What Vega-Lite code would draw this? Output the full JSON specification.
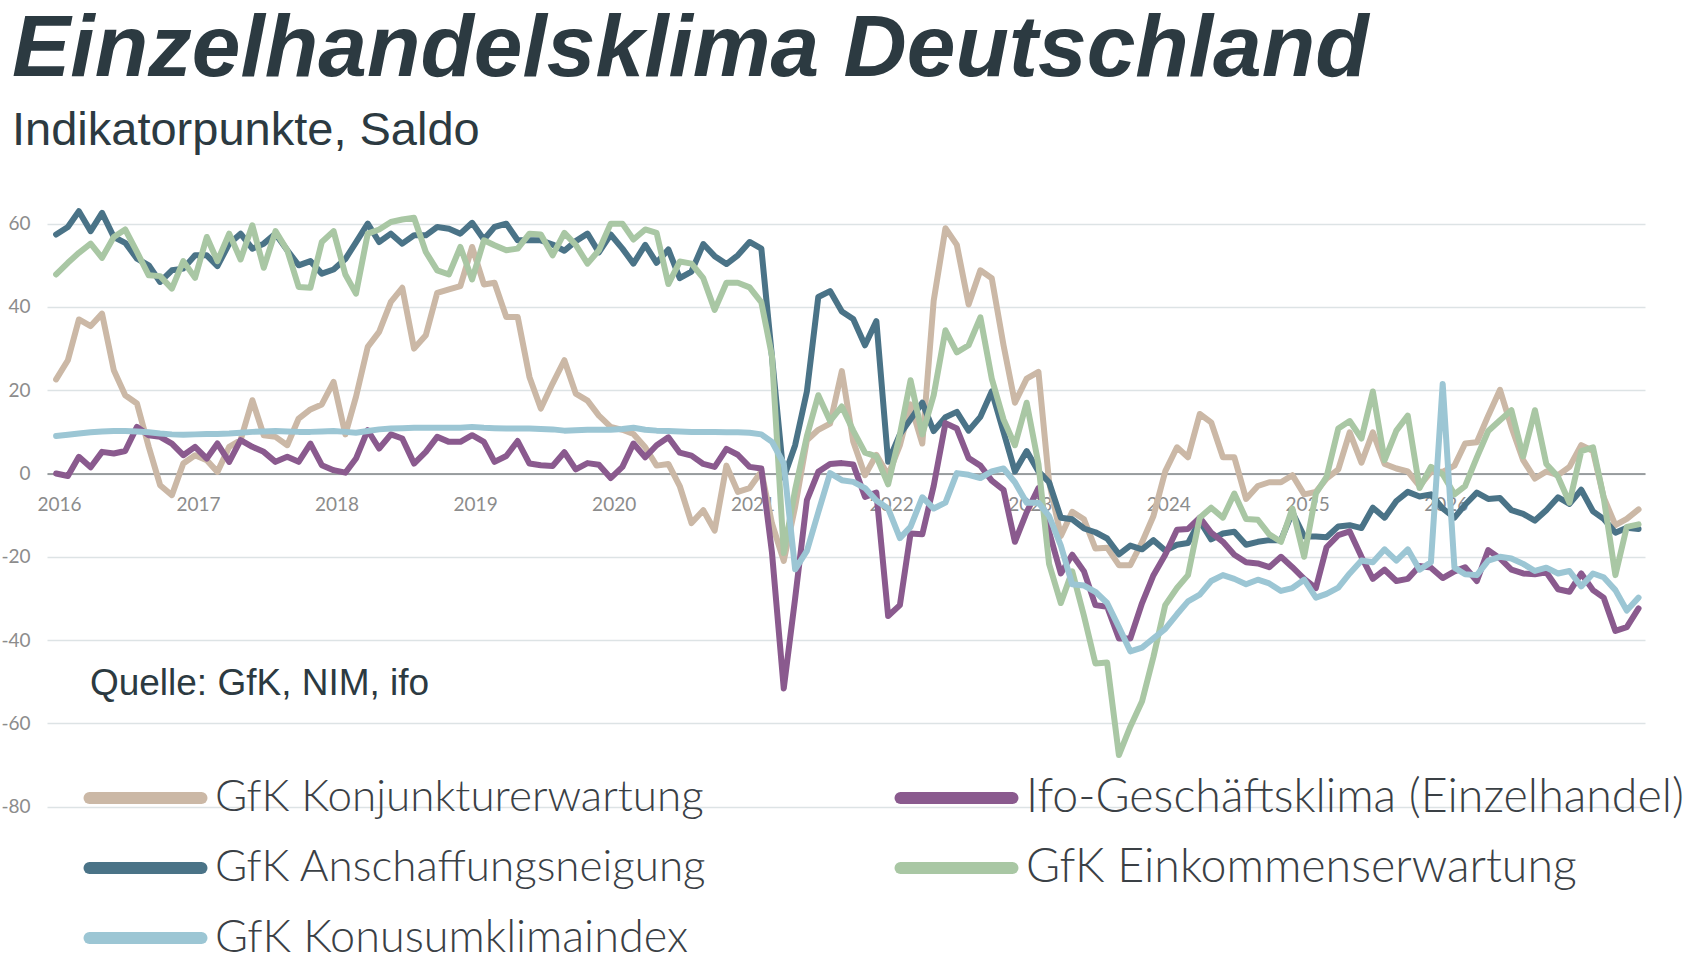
{
  "$schema": "https://vega.github.io/schema/vega-lite/v6.json",
  "width": 1598,
  "height": 608,
  "autosize": "none",
  "padding": {"left": 47, "top": 207, "right": 53, "bottom": 148},
  "background": "white",
  "config": {"view": {"stroke": null}},
  "title": {
    "text": "Einzelhandelsklima Deutschland",
    "subtitle": "Indikatorpunkte, Saldo",
    "anchor": "start",
    "frame": "group",
    "dx": -35,
    "offset": 52,
    "font": "Liberation Sans",
    "fontSize": 87.5,
    "fontStyle": "italic",
    "fontWeight": "bold",
    "color": "#2c3a41",
    "subtitleFont": "Liberation Sans",
    "subtitleFontSize": 47,
    "subtitleColor": "#2c3a41",
    "subtitlePadding": 14
  },
  "layer": [
    {
      "data": {
        "values": [
          {"Monat": "2016-01", "k": 22.6, "a": 57.4, "i": 0, "e": 47.8, "c": 9.0},
          {"Monat": "2016-02", "k": 27.2, "a": 59.2, "i": -0.6, "e": 50.6, "c": 9.3},
          {"Monat": "2016-03", "k": 37, "a": 63, "i": 4, "e": 53, "c": 9.6},
          {"Monat": "2016-04", "k": 35.4, "a": 58.2, "i": 1.5, "e": 55.2, "c": 9.9},
          {"Monat": "2016-05", "k": 38.4, "a": 62.6, "i": 5.2, "e": 51.8, "c": 10.1},
          {"Monat": "2016-06", "k": 24.8, "a": 56.8, "i": 4.8, "e": 56.8, "c": 10.2},
          {"Monat": "2016-07", "k": 18.8, "a": 55.4, "i": 5.4, "e": 58.6, "c": 10.2},
          {"Monat": "2016-08", "k": 16.8, "a": 51.6, "i": 11.2, "e": 53.2, "c": 10.1},
          {"Monat": "2016-09", "k": 6.4, "a": 50, "i": 9.2, "e": 47.6, "c": 9.9},
          {"Monat": "2016-10", "k": -2.8, "a": 46, "i": 8.8, "e": 47.4, "c": 9.6},
          {"Monat": "2016-11", "k": -5.2, "a": 48.8, "i": 7.2, "e": 44.4, "c": 9.4},
          {"Monat": "2016-12", "k": 2.4, "a": 49.2, "i": 4.4, "e": 51, "c": 9.3},
          {"Monat": "2017-01", "k": 4.4, "a": 52.4, "i": 6.4, "e": 47, "c": 9.4},
          {"Monat": "2017-02", "k": 3.2, "a": 52.4, "i": 3.6, "e": 56.8, "c": 9.5},
          {"Monat": "2017-03", "k": 0.4, "a": 49.8, "i": 7.2, "e": 51, "c": 9.5},
          {"Monat": "2017-04", "k": 6.4, "a": 55.2, "i": 2.8, "e": 57.6, "c": 9.6},
          {"Monat": "2017-05", "k": 8, "a": 57.6, "i": 8, "e": 51.4, "c": 9.8},
          {"Monat": "2017-06", "k": 17.6, "a": 54, "i": 6.4, "e": 59.6, "c": 10},
          {"Monat": "2017-07", "k": 9.2, "a": 55.2, "i": 5.2, "e": 49.4, "c": 10.1},
          {"Monat": "2017-08", "k": 8.8, "a": 57.6, "i": 2.8, "e": 58.2, "c": 10.2},
          {"Monat": "2017-09", "k": 6.8, "a": 53.6, "i": 4, "e": 53.6, "c": 10.1},
          {"Monat": "2017-10", "k": 13.2, "a": 50, "i": 2.8, "e": 44.8, "c": 10},
          {"Monat": "2017-11", "k": 15.4, "a": 51, "i": 7.2, "e": 44.6, "c": 10},
          {"Monat": "2017-12", "k": 16.6, "a": 48, "i": 2, "e": 55.6, "c": 10.1},
          {"Monat": "2018-01", "k": 22, "a": 49, "i": 0.8, "e": 58.2, "c": 10.2},
          {"Monat": "2018-02", "k": 9.4, "a": 51.5, "i": 0.2, "e": 47.8, "c": 10},
          {"Monat": "2018-03", "k": 18.4, "a": 55.5, "i": 3.6, "e": 43.2, "c": 9.8},
          {"Monat": "2018-04", "k": 30.4, "a": 60, "i": 10.4, "e": 57.6, "c": 10.2},
          {"Monat": "2018-05", "k": 34, "a": 55.6, "i": 6, "e": 58.6, "c": 10.6},
          {"Monat": "2018-06", "k": 41.2, "a": 57.6, "i": 9.4, "e": 60.4, "c": 10.8},
          {"Monat": "2018-07", "k": 44.6, "a": 55.2, "i": 8.4, "e": 61, "c": 10.9},
          {"Monat": "2018-08", "k": 30, "a": 57.2, "i": 2.4, "e": 61.4, "c": 11},
          {"Monat": "2018-09", "k": 33.2, "a": 57.2, "i": 5.2, "e": 53.2, "c": 11},
          {"Monat": "2018-10", "k": 43.4, "a": 59.2, "i": 8.8, "e": 48.8, "c": 11},
          {"Monat": "2018-11", "k": 44.2, "a": 58.8, "i": 7.6, "e": 47.8, "c": 11},
          {"Monat": "2018-12", "k": 45, "a": 57.6, "i": 7.6, "e": 54.4, "c": 11},
          {"Monat": "2019-01", "k": 54.4, "a": 60.2, "i": 9.2, "e": 46.6, "c": 11.2},
          {"Monat": "2019-02", "k": 45.4, "a": 56.2, "i": 7.6, "e": 56, "c": 11},
          {"Monat": "2019-03", "k": 45.8, "a": 59.2, "i": 2.8, "e": 54.8, "c": 10.9},
          {"Monat": "2019-04", "k": 37.6, "a": 60, "i": 4.2, "e": 53.6, "c": 10.8},
          {"Monat": "2019-05", "k": 37.6, "a": 56, "i": 7.8, "e": 54, "c": 10.8},
          {"Monat": "2019-06", "k": 23.2, "a": 56, "i": 2.4, "e": 57.6, "c": 10.8},
          {"Monat": "2019-07", "k": 15.6, "a": 56, "i": 2, "e": 57.4, "c": 10.7},
          {"Monat": "2019-08", "k": 21.6, "a": 55, "i": 1.8, "e": 52.4, "c": 10.6},
          {"Monat": "2019-09", "k": 27.2, "a": 53.5, "i": 5.1, "e": 57.8, "c": 10.3},
          {"Monat": "2019-10", "k": 19.2, "a": 55.8, "i": 1, "e": 54.9, "c": 10.4},
          {"Monat": "2019-11", "k": 17.5, "a": 57.6, "i": 2.5, "e": 50.4, "c": 10.5},
          {"Monat": "2019-12", "k": 13.9, "a": 53.1, "i": 2.1, "e": 53.6, "c": 10.5},
          {"Monat": "2020-01", "k": 11.2, "a": 57.4, "i": -1.1, "e": 60, "c": 10.5},
          {"Monat": "2020-02", "k": 10.5, "a": 54, "i": 1.6, "e": 60, "c": 10.7},
          {"Monat": "2020-03", "k": 9.5, "a": 50.4, "i": 7.2, "e": 56.2, "c": 11},
          {"Monat": "2020-04", "k": 6.3, "a": 54.9, "i": 3.9, "e": 58.6, "c": 10.5},
          {"Monat": "2020-05", "k": 1.9, "a": 50.6, "i": 6.8, "e": 57.8, "c": 10.3},
          {"Monat": "2020-06", "k": 2.3, "a": 53.8, "i": 8.7, "e": 45.5, "c": 10.2},
          {"Monat": "2020-07", "k": -3, "a": 46.9, "i": 5, "e": 50.9, "c": 10.1},
          {"Monat": "2020-08", "k": -11.9, "a": 48.5, "i": 4.3, "e": 50.4, "c": 10},
          {"Monat": "2020-09", "k": -8.8, "a": 55.1, "i": 2.3, "e": 46.9, "c": 10},
          {"Monat": "2020-10", "k": -13.7, "a": 52.2, "i": 1.6, "e": 39.3, "c": 10},
          {"Monat": "2020-11", "k": 1.9, "a": 50.3, "i": 5.9, "e": 45.8, "c": 9.9},
          {"Monat": "2020-12", "k": -4.4, "a": 52.4, "i": 4.5, "e": 45.8, "c": 9.9},
          {"Monat": "2021-01", "k": -3.5, "a": 55.6, "i": 1.6, "e": 44.7, "c": 9.8},
          {"Monat": "2021-02", "k": 0.5, "a": 54, "i": 1.2, "e": 41.1, "c": 9.4},
          {"Monat": "2021-03", "k": -12, "a": 28, "i": -19, "e": 28.2, "c": 7.6},
          {"Monat": "2021-04", "k": -21, "a": -1, "i": -51.6, "e": -19.1, "c": 2.4},
          {"Monat": "2021-05", "k": -8, "a": 6.8, "i": -30, "e": -3.9, "c": -23},
          {"Monat": "2021-06", "k": 8, "a": 19.7, "i": -6.4, "e": 9, "c": -18.6},
          {"Monat": "2021-07", "k": 10.5, "a": 42.4, "i": 0.4, "e": 18.8, "c": -9.3},
          {"Monat": "2021-08", "k": 12, "a": 43.8, "i": 2.3, "e": 12.6, "c": 0.1},
          {"Monat": "2021-09", "k": 24.6, "a": 38.9, "i": 2.5, "e": 16.1, "c": -1.6},
          {"Monat": "2021-10", "k": 7.7, "a": 37.1, "i": 2.2, "e": 10.3, "c": -2},
          {"Monat": "2021-11", "k": -0.4, "a": 30.8, "i": -5.6, "e": 5, "c": -3.5},
          {"Monat": "2021-12", "k": 4.5, "a": 36.6, "i": -4.6, "e": 4.1, "c": -6.5},
          {"Monat": "2022-01", "k": -0.4, "a": 2.8, "i": -34.2, "e": -2.6, "c": -8.4},
          {"Monat": "2022-02", "k": 6.8, "a": 9.4, "i": -31.6, "e": 9.4, "c": -15.5},
          {"Monat": "2022-03", "k": 16.6, "a": 13, "i": -14.4, "e": 22.4, "c": -12.8},
          {"Monat": "2022-04", "k": 7.2, "a": 17, "i": -14.6, "e": 9.4, "c": -5.7},
          {"Monat": "2022-05", "k": 41.5, "a": 10.2, "i": -3, "e": 18.8, "c": -8.4},
          {"Monat": "2022-06", "k": 58.9, "a": 13.5, "i": 12.1, "e": 34.4, "c": -7},
          {"Monat": "2022-07", "k": 54.9, "a": 14.8, "i": 10.8, "e": 29.1, "c": 0.1},
          {"Monat": "2022-08", "k": 40.6, "a": 10.3, "i": 3.7, "e": 30.8, "c": -0.3},
          {"Monat": "2022-09", "k": 48.8, "a": 13.6, "i": 1.9, "e": 37.5, "c": -1.1},
          {"Monat": "2022-10", "k": 46.9, "a": 19.7, "i": -1.7, "e": 22.8, "c": 0.5},
          {"Monat": "2022-11", "k": 30.8, "a": 10, "i": -3.9, "e": 13, "c": 1.2},
          {"Monat": "2022-12", "k": 17, "a": 0.5, "i": -16.4, "e": 6.8, "c": -2.1},
          {"Monat": "2023-01", "k": 22.8, "a": 5.4, "i": -9.3, "e": 17, "c": -7},
          {"Monat": "2023-02", "k": 24.4, "a": 0.5, "i": -3.5, "e": 2.3, "c": -7},
          {"Monat": "2023-03", "k": -2, "a": -2.1, "i": -14, "e": -21.7, "c": -10.2},
          {"Monat": "2023-04", "k": -15, "a": -10.6, "i": -24, "e": -31.1, "c": -17.3},
          {"Monat": "2023-05", "k": -9.2, "a": -11, "i": -19.5, "e": -23.5, "c": -26.6},
          {"Monat": "2023-06", "k": -11, "a": -13.2, "i": -23.5, "e": -34.2, "c": -26.9},
          {"Monat": "2023-07", "k": -18, "a": -14.1, "i": -31.6, "e": -45.6, "c": -28.4},
          {"Monat": "2023-08", "k": -17.8, "a": -15.6, "i": -32, "e": -45.4, "c": -31.1},
          {"Monat": "2023-09", "k": -22, "a": -19.4, "i": -39.6, "e": -67.6, "c": -36.9},
          {"Monat": "2023-10", "k": -22, "a": -17.3, "i": -39.6, "e": -60.8, "c": -42.7},
          {"Monat": "2023-11", "k": -16.5, "a": -18.2, "i": -31.1, "e": -54.7, "c": -41.8},
          {"Monat": "2023-12", "k": -10.2, "a": -16, "i": -24.4, "e": -44, "c": -39.6},
          {"Monat": "2024-01", "k": 0.5, "a": -18.5, "i": -19.5, "e": -31.6, "c": -37.3},
          {"Monat": "2024-02", "k": 6.3, "a": -17.1, "i": -13.5, "e": -27.5, "c": -33.8},
          {"Monat": "2024-03", "k": 3.9, "a": -16.7, "i": -13.3, "e": -24.4, "c": -30.7},
          {"Monat": "2024-04", "k": 14.3, "a": -11.4, "i": -10.6, "e": -10.6, "c": -29.1},
          {"Monat": "2024-05", "k": 12.3, "a": -15.8, "i": -14.2, "e": -8.2, "c": -25.8},
          {"Monat": "2024-06", "k": 3.9, "a": -14.4, "i": -16.4, "e": -10.6, "c": -24.4},
          {"Monat": "2024-07", "k": 3.9, "a": -14, "i": -19.5, "e": -4.8, "c": -25.3},
          {"Monat": "2024-08", "k": -6.1, "a": -17.1, "i": -21.3, "e": -10.9, "c": -26.6},
          {"Monat": "2024-09", "k": -3, "a": -16.4, "i": -21.6, "e": -11.1, "c": -25.5},
          {"Monat": "2024-10", "k": -2.1, "a": -16, "i": -22.5, "e": -14.6, "c": -26.4},
          {"Monat": "2024-11", "k": -2.1, "a": -16, "i": -20, "e": -16.4, "c": -28.2},
          {"Monat": "2024-12", "k": -0.4, "a": -9.3, "i": -22.5, "e": -8.4, "c": -27.5},
          {"Monat": "2025-01", "k": -5, "a": -15.1, "i": -25.3, "e": -20, "c": -25.5},
          {"Monat": "2025-02", "k": -4.4, "a": -15.1, "i": -27.5, "e": -4.8, "c": -29.8},
          {"Monat": "2025-03", "k": -1.2, "a": -15.3, "i": -17.7, "e": -0.8, "c": -28.9},
          {"Monat": "2025-04", "k": 1, "a": -12.7, "i": -14.8, "e": 10.8, "c": -27.4},
          {"Monat": "2025-05", "k": 9.9, "a": -12.4, "i": -13.9, "e": 12.6, "c": -24},
          {"Monat": "2025-06", "k": 2.6, "a": -13.1, "i": -20, "e": 8.4, "c": -20.9},
          {"Monat": "2025-07", "k": 9.9, "a": -8.2, "i": -25.3, "e": 19.7, "c": -21.3},
          {"Monat": "2025-08", "k": 2.3, "a": -10.6, "i": -23.1, "e": 3.2, "c": -18.2},
          {"Monat": "2025-09", "k": 1.2, "a": -6.6, "i": -25.8, "e": 10.3, "c": -20.9},
          {"Monat": "2025-10", "k": 0.5, "a": -4.4, "i": -25.3, "e": 13.9, "c": -18.2},
          {"Monat": "2025-11", "k": -3, "a": -5.5, "i": -22.2, "e": -3.5, "c": -23.1},
          {"Monat": "2025-12", "k": 0.4, "a": -5, "i": -22.6, "e": 1.6, "c": -21.3},
          {"Monat": "2026-01", "k": 0.4, "a": -8.4, "i": -25.1, "e": -0.2, "c": 21.5},
          {"Monat": "2026-02", "k": 1.9, "a": -10.6, "i": -23.5, "e": -5, "c": -22.6},
          {"Monat": "2026-03", "k": 7.2, "a": -7.5, "i": -22.5, "e": -3, "c": -24.2},
          {"Monat": "2026-04", "k": 7.5, "a": -4.6, "i": -25.8, "e": 3.9, "c": -24.4},
          {"Monat": "2026-05", "k": 13.9, "a": -6.1, "i": -18.4, "e": 10.2, "c": -20.9},
          {"Monat": "2026-06", "k": 20.1, "a": -5.9, "i": -20.4, "e": 12.8, "c": -20},
          {"Monat": "2026-07", "k": 11.2, "a": -8.8, "i": -23.1, "e": 15.2, "c": -20.4},
          {"Monat": "2026-08", "k": 3.2, "a": -9.7, "i": -24, "e": 4.1, "c": -21.7},
          {"Monat": "2026-09", "k": -1.2, "a": -11.3, "i": -24.2, "e": 15.2, "c": -23.4},
          {"Monat": "2026-10", "k": 0.5, "a": -8.8, "i": -23.7, "e": 2.3, "c": -22.6},
          {"Monat": "2026-11", "k": -0.4, "a": -5.7, "i": -27.8, "e": -0.8, "c": -24},
          {"Monat": "2026-12", "k": 1.6, "a": -7.3, "i": -28.4, "e": -7, "c": -23.4},
          {"Monat": "2027-01", "k": 6.8, "a": -3.9, "i": -24, "e": 5.4, "c": -27.1},
          {"Monat": "2027-02", "k": 5.4, "a": -9.1, "i": -28, "e": 6.3, "c": -24},
          {"Monat": "2027-03", "k": -5.7, "a": -10.9, "i": -29.8, "e": -5.7, "c": -24.9},
          {"Monat": "2027-04", "k": -12.4, "a": -14.2, "i": -37.8, "e": -24.4, "c": -28},
          {"Monat": "2027-05", "k": -10.9, "a": -13, "i": -36.9, "e": -12.8, "c": -32.9},
          {"Monat": "2027-06", "k": -8.6, "a": -13.3, "i": -32.4, "e": -12.2, "c": -29.8}
        ]
      },
      "transform": [
        {"fold": ["k", "a", "i", "e", "c"], "as": ["Reihe", "Wert"]}
      ],
      "mark": {"type": "line", "strokeWidth": 6, "strokeJoin": "round", "strokeCap": "round"},
      "encoding": {
        "x": {
          "field": "Monat",
          "type": "temporal",
          "scale": {
            "type": "utc",
            "domain": [
              {"year": 2015, "month": 12, "date": 8, "utc": true},
              {"year": 2027, "month": 6, "date": 18, "utc": true}
            ]
          },
          "axis": {
            "title": null,
            "values": [
              {"year": 2016, "month": 1, "date": 1, "utc": true},
              {"year": 2017, "month": 1, "date": 1, "utc": true},
              {"year": 2018, "month": 1, "date": 1, "utc": true},
              {"year": 2019, "month": 1, "date": 1, "utc": true},
              {"year": 2020, "month": 1, "date": 1, "utc": true},
              {"year": 2021, "month": 1, "date": 1, "utc": true},
              {"year": 2022, "month": 1, "date": 1, "utc": true},
              {"year": 2023, "month": 1, "date": 1, "utc": true},
              {"year": 2024, "month": 1, "date": 1, "utc": true},
              {"year": 2025, "month": 1, "date": 1, "utc": true},
              {"year": 2026, "month": 1, "date": 1, "utc": true}
            ],
            "format": "%Y",
            "offset": -341.5,
            "grid": false,
            "ticks": false,
            "domainColor": "#7f8486",
            "domainWidth": 1.5,
            "labelFont": "Lato",
            "labelFontSize": 19,
            "labelColor": "#8c8c8c",
            "labelPadding": 22,
            "labelOffset": 3
          }
        },
        "y": {
          "field": "Wert",
          "type": "quantitative",
          "scale": {"domain": [-82, 64], "nice": false, "zero": false},
          "axis": {
            "title": null,
            "values": [-80, -60, -40, -20, 0, 20, 40, 60],
            "labelExpr": "datum.value < 0 ? '-' + abs(datum.value) : '' + datum.value",
            "grid": true,
            "gridColor": "#dde3e5",
            "gridWidth": 1.5,
            "domain": false,
            "ticks": false,
            "labelFont": "Lato",
            "labelFontSize": 19,
            "labelColor": "#8c8c8c",
            "labelPadding": 17
          }
        },
        "color": {
          "field": "Reihe",
          "type": "nominal",
          "scale": {
            "domain": ["k", "a", "c", "i", "e"],
            "range": ["#cbb8a6", "#4a7387", "#9cc6d4", "#8a5a8e", "#a9c7a4"]
          },
          "legend": {
            "title": null,
            "orient": "none",
            "legendX": 30.5,
            "legendY": 569,
            "padding": 0,
            "columns": 2,
            "columnPadding": 169,
            "rowPadding": 22,
            "symbolType": "M-1,0H10.2",
            "symbolSize": 400,
            "symbolStrokeWidth": 12,
            "labelFont": "Lato",
            "labelFontSize": 44,
            "labelFontWeight": 300,
            "labelColor": "#3a4045",
            "labelOffset": 93.5,
            "labelLimit": 900,
            "labelExpr": "{'k': 'GfK Konjunkturerwartung', 'i': 'Ifo-Geschäftsklima (Einzelhandel)', 'a': 'GfK Anschaffungsneigung', 'e': 'GfK Einkommenserwartung', 'c': 'GfK Konusumklimaindex'}[datum.label]",
            "encode": {
              "symbols": {"update": {"strokeCap": {"value": "round"}, "fillOpacity": {"value": 0}}},
              "labels": {"update": {"fontSize": {"signal": "datum.value === 'i' || datum.value === 'e' ? 46.5 : (datum.value === 'c' ? 45 : 44)"}}}
            }
          }
        }
      }
    },
    {
      "data": {"values": [{"Monat": "2016-03-30", "Wert": -53.2, "Text": "Quelle: GfK, NIM, ifo"}]},
      "mark": {"type": "text", "align": "left", "baseline": "alphabetic", "font": "Liberation Sans", "fontSize": 37, "color": "#2c3a41"},
      "encoding": {
        "x": {"field": "Monat", "type": "temporal"},
        "y": {"field": "Wert", "type": "quantitative"},
        "text": {"field": "Text"}
      }
    }
  ]
}
